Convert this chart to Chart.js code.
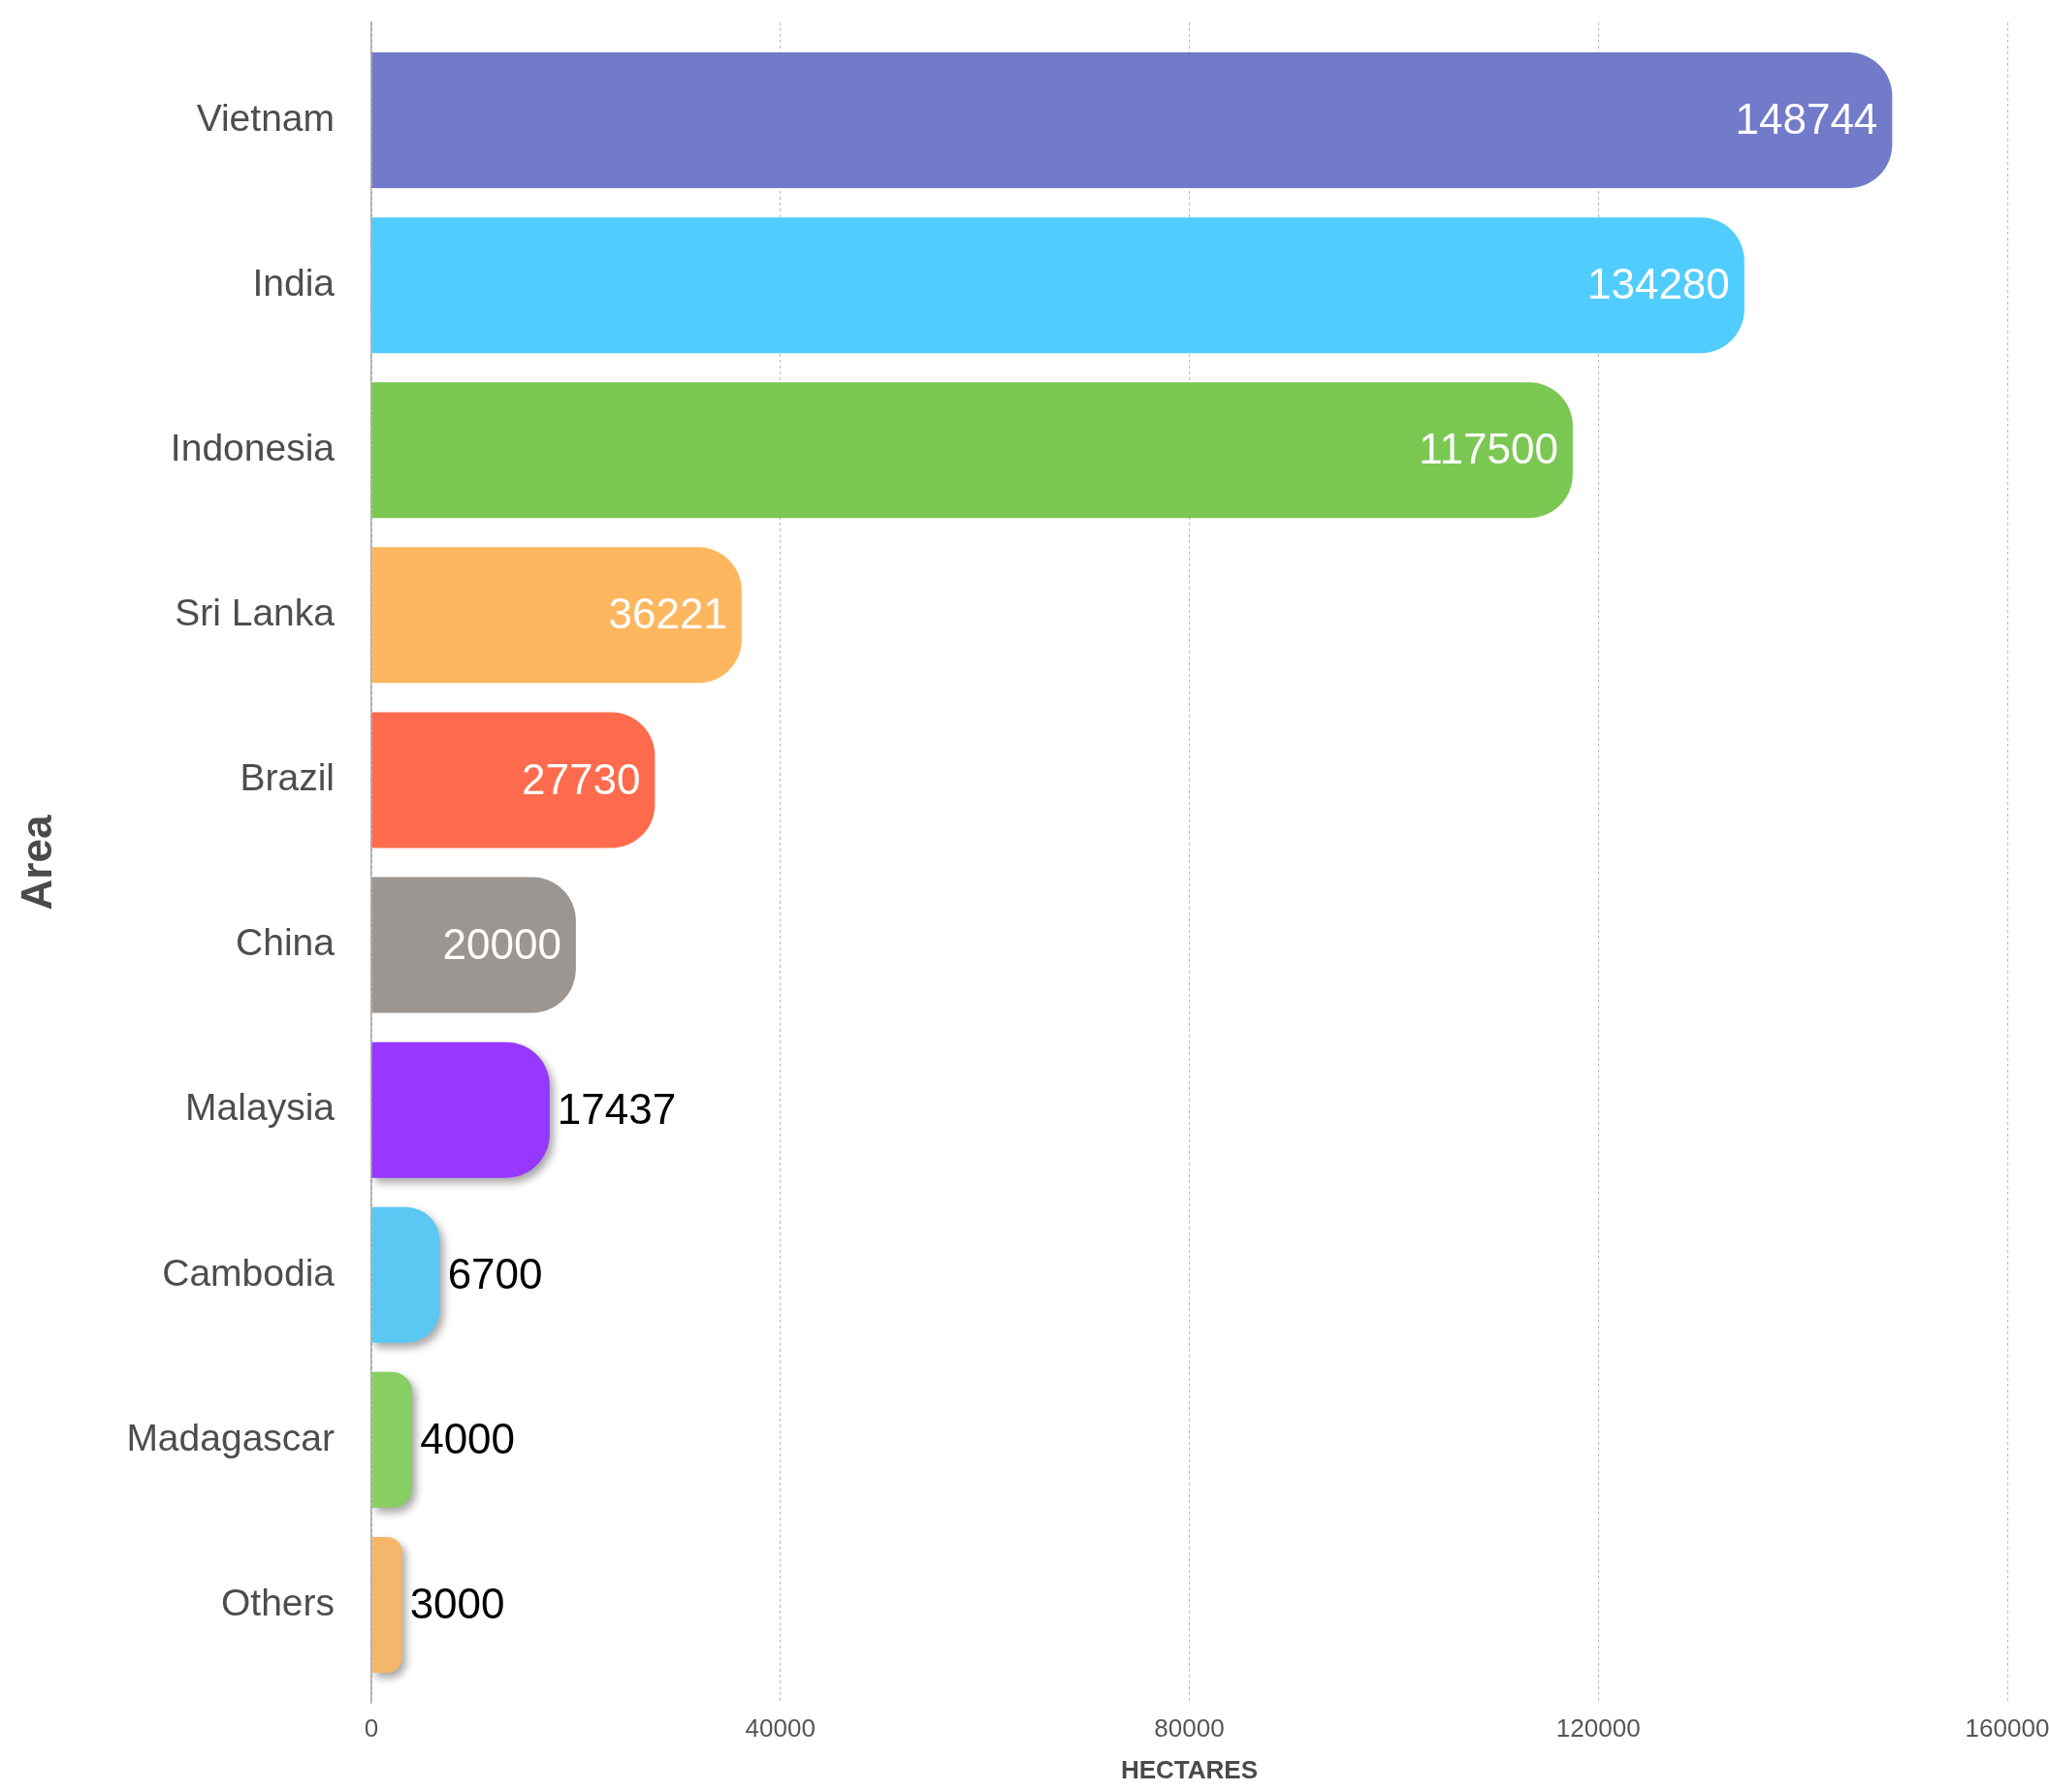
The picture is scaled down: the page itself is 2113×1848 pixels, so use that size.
<!DOCTYPE html>
<html>
<head>
<meta charset="utf-8">
<script src="https://cdn.jsdelivr.net/npm/chart.js@4"></script>
<style>
  html, body { margin: 0; padding: 0; background: #fff; }
  #wrap { width: 2113px; height: 1848px; }
</style>
</head>
<body>
<div id="wrap"><canvas id="areaChart"></canvas></div>
<script>
const countries = ['Vietnam', 'India', 'Indonesia', 'Sri Lanka', 'Brazil', 'China', 'Malaysia', 'Cambodia', 'Madagascar', 'Others'];
const hectares = [148744, 134280, 117500, 36221, 27730, 20000, 17437, 6700, 4000, 3000];
const axisMin = 0;
const axisMax = 160000;
const axisStep = 40000;

// big bars get their label inside, small ones outside with a drop shadow
const INSIDE_MIN = 20000;
const colors = ['#727aca', '#50cdfe', '#7ac852', '#feb75e', '#ff6b4c', '#9b9691', '#9638fe', '#5bc8f4', '#88cf63', '#f3b66a'];
const FONT = '"Liberation Sans", Arial, Helvetica, sans-serif';
// a little air above the first and below the last category, in category units
const EDGE_GAP = 0.094;

Chart.defaults.font.family = FONT;

const barShadows = {
  id: 'barShadows',
  afterUpdate(chart) {
    chart.getDatasetMeta(0).data.forEach((bar, i) => {
      if (hectares[i] >= INSIDE_MIN || bar._shadowed) return;
      const draw = bar.draw;
      bar.draw = function (ctx, area) {
        ctx.save();
        ctx.shadowColor = 'rgba(0,0,0,0.35)';
        ctx.shadowBlur = 9;
        ctx.shadowOffsetX = 4;
        ctx.shadowOffsetY = 5;
        draw.call(this, ctx, area);
        ctx.restore();
      };
      bar._shadowed = true;
    });
  }
};

const valueLabels = {
  id: 'valueLabels',
  afterDatasetsDraw(chart) {
    const ctx = chart.ctx;
    ctx.save();
    ctx.font = '44px ' + FONT;
    ctx.textBaseline = 'middle';
    chart.getDatasetMeta(0).data.forEach((bar, i) => {
      const v = hectares[i];
      if (v >= INSIDE_MIN) {
        ctx.fillStyle = '#ffffff';
        ctx.textAlign = 'right';
        ctx.fillText(String(v), bar.x - 15, bar.y + 2);
      } else {
        ctx.fillStyle = '#000000';
        ctx.textAlign = 'left';
        ctx.fillText(String(v), bar.x + 8, bar.y + 2);
      }
    });
    ctx.restore();
  }
};

new Chart(document.getElementById('areaChart'), {
  type: 'bar',
  data: {
    labels: countries,
    datasets: [{
      data: hectares,
      backgroundColor: colors,
      borderWidth: 0,
      borderSkipped: 'start',
      borderRadius: { topLeft: 0, bottomLeft: 0, topRight: 45, bottomRight: 45 },
      barPercentage: 0.823,
      categoryPercentage: 1
    }]
  },
  options: {
    indexAxis: 'y',
    responsive: true,
    maintainAspectRatio: false,
    animation: false,
    layout: { padding: { top: 23, left: 0, bottom: 3, right: 0 } },
    plugins: {
      legend: { display: false },
      tooltip: { enabled: false }
    },
    scales: {
      x: {
        min: axisMin,
        max: axisMax,
        ticks: {
          stepSize: axisStep, color: '#555', font: { size: 26 }, padding: 12,
          callback: v => String(v)
        },
        grid: { color: '#b8b8b8', lineWidth: 1, drawTicks: false },
        border: { display: false, dash: [3, 3] },
        title: {
          display: true, text: 'HECTARES', color: '#4a4a4a',
          font: { size: 26, weight: 'bold' }, padding: { top: 4, bottom: 3 }
        },
        afterFit(scale) {
          scale.height = 89;
          scale.paddingRight = 43;
        }
      },
      y: {
        ticks: { color: '#4d4d4d', font: { size: 39 }, padding: 38 },
        grid: { display: false, drawTicks: false },
        border: { display: true, color: '#aaa', width: 1.5 },
        title: {
          display: true, text: 'Area', color: '#4a4a4a',
          font: { size: 44, weight: 'bold' }, padding: { top: 14, bottom: 14 }
        },
        afterBuildTicks(scale) {
          scale._startValue -= EDGE_GAP;
          scale._valueRange += 2 * EDGE_GAP;
        },
        afterFit(scale) {
          scale.width = 383;
          scale.paddingTop = 0;
          scale.paddingBottom = 0;
        }
      }
    }
  },
  plugins: [barShadows, valueLabels]
});
</script>
</body>
</html>
